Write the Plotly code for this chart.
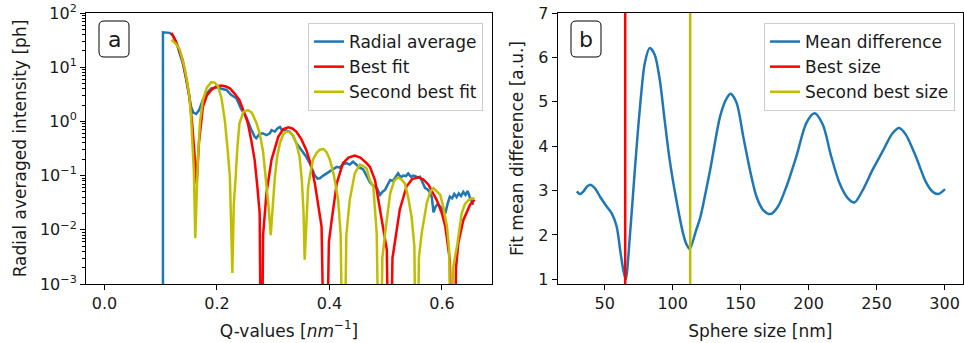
import plotly.graph_objects as go

# ---------------- Panel (a) data ----------------
q_radial = [0.104, 0.104, 0.116, 0.122, 0.128, 0.134, 0.140, 0.146, 0.151, 0.154, 0.158, 0.163, 0.168,
            0.175, 0.182, 0.190, 0.196, 0.202, 0.208, 0.217, 0.225, 0.2345, 0.243, 0.252, 0.260, 0.267,
            0.270, 0.276, 0.282, 0.288, 0.294, 0.297, 0.303, 0.308, 0.312, 0.316, 0.321, 0.325, 0.329,
            0.335, 0.341, 0.347, 0.353, 0.359, 0.365, 0.370, 0.374, 0.379, 0.383, 0.389, 0.395, 0.401,
            0.407, 0.413, 0.418, 0.424, 0.430, 0.436, 0.442, 0.448, 0.454, 0.460, 0.466, 0.472, 0.478,
            0.484, 0.490, 0.494, 0.499, 0.504, 0.508, 0.513, 0.518, 0.522, 0.527, 0.531, 0.536, 0.540,
            0.545, 0.549, 0.553, 0.557, 0.561, 0.566, 0.570, 0.574, 0.578, 0.582, 0.585, 0.589, 0.593,
            0.597, 0.601, 0.606, 0.610, 0.614, 0.618, 0.622, 0.626, 0.630, 0.634, 0.638, 0.642, 0.646,
            0.650, 0.653, 0.656]
i_radial = [1e-6, 44, 43, 38, 28, 18, 11, 5.5, 2.9, 1.87, 1.45, 1.37, 1.6,
            2.5, 3.3, 4.07, 4.2, 4.27, 4.0, 3.8, 3.1, 2.67, 1.7, 1.22, 0.75, 0.52,
            0.49, 0.6, 0.6, 0.56, 0.6, 0.69, 0.65, 0.75, 0.79, 0.68, 0.7, 0.66, 0.65,
            0.55, 0.40, 0.33, 0.26, 0.22, 0.17, 0.12, 0.10, 0.088, 0.089, 0.10, 0.11, 0.12,
            0.13, 0.145, 0.14, 0.16, 0.17, 0.16, 0.18, 0.16, 0.14, 0.13, 0.10, 0.075, 0.065,
            0.060, 0.044, 0.050, 0.055, 0.072, 0.083, 0.080, 0.095, 0.11, 0.092, 0.10, 0.098, 0.11,
            0.095, 0.10, 0.098, 0.092, 0.095, 0.075, 0.059, 0.056, 0.050, 0.040, 0.021, 0.027, 0.030,
            0.027, 0.024, 0.020, 0.030, 0.041, 0.038, 0.046, 0.040, 0.047, 0.042, 0.050, 0.044, 0.052,
            0.038, 0.032, 0.029]

q_best = [0.119, 0.125, 0.132, 0.139, 0.145, 0.151, 0.156, 0.160, 0.164, 0.168, 0.175, 0.182, 0.190,
          0.199, 0.208, 0.216, 0.223, 0.231, 0.240, 0.248, 0.255, 0.261, 0.267, 0.272, 0.276, 0.279,
          0.282, 0.288, 0.297, 0.309, 0.318, 0.327, 0.334, 0.341, 0.350, 0.359, 0.367, 0.374, 0.380,
          0.386, 0.393, 0.399, 0.404, 0.413, 0.424, 0.434, 0.445, 0.455, 0.466, 0.472, 0.481, 0.490,
          0.496, 0.502, 0.507, 0.512, 0.516, 0.525, 0.537, 0.547, 0.558, 0.567, 0.576, 0.591, 0.600,
          0.606, 0.614, 0.621, 0.625, 0.629, 0.638, 0.650, 0.658]
i_best = [43, 33, 22, 13.5, 6.5, 2.86, 0.9, 0.30, 0.072, 0.4, 1.86, 3.0, 3.8,
          4.4, 4.6, 4.4, 4.07, 3.3, 2.48, 1.5, 0.92, 0.45, 0.195, 0.06, 0.02, 1e-6,
          0.008, 0.047, 0.195, 0.52, 0.72, 0.78, 0.74, 0.65, 0.47, 0.295, 0.16, 0.072, 0.03,
          0.0115, 1e-6, 0.006, 0.015, 0.072, 0.17, 0.215, 0.234, 0.215, 0.17, 0.145, 0.083, 0.0235,
          0.011, 0.0043, 1e-6, 0.003, 0.0056, 0.0235, 0.063, 0.086, 0.093, 0.085, 0.068, 0.035, 0.02,
          0.0115, 0.0028, 1e-6, 0.002, 0.0056, 0.015, 0.029, 0.036]

q_second = [0.119, 0.127, 0.134, 0.142, 0.147, 0.151, 0.154, 0.157, 0.159, 0.1615, 0.164, 0.166, 0.170,
            0.175, 0.182, 0.190, 0.196, 0.202, 0.208, 0.214, 0.219, 0.223, 0.2274, 0.230, 0.2333, 0.236,
            0.240, 0.247, 0.255, 0.262, 0.270, 0.276, 0.282, 0.288, 0.292, 0.2956, 0.299, 0.303, 0.307,
            0.312, 0.318, 0.324, 0.330, 0.335, 0.341, 0.347, 0.351, 0.354, 0.356, 0.359, 0.362, 0.365,
            0.371, 0.377, 0.383, 0.389, 0.395, 0.401, 0.408, 0.4156, 0.420, 0.425, 0.430, 0.436, 0.445,
            0.454, 0.460, 0.466, 0.472, 0.478, 0.484, 0.490, 0.494, 0.499, 0.508, 0.515, 0.522, 0.528,
            0.534, 0.540, 0.546, 0.551, 0.555, 0.559, 0.564, 0.573, 0.579, 0.585, 0.591, 0.597, 0.603,
            0.609, 0.613, 0.6165, 0.620, 0.6275, 0.635, 0.641, 0.647, 0.653, 0.658]
i_second = [32, 27, 21, 10.2, 5.5, 2.86, 1.2, 0.40, 0.12, 0.007, 0.05, 0.195, 1.0,
            2.5, 4.2, 5.3, 5.2, 4.4, 2.7, 1.06, 0.3, 0.095, 0.0016, 0.03, 0.095, 0.3,
            0.92, 1.5, 1.62, 1.45, 0.95, 0.6, 0.28, 0.07, 0.025, 0.008, 0.03, 0.095, 0.22,
            0.40, 0.58, 0.65, 0.62, 0.56, 0.40, 0.22, 0.08, 0.02, 0.0028, 0.02, 0.06, 0.095,
            0.2, 0.26, 0.30, 0.31, 0.27, 0.195, 0.10, 0.035, 0.008, 1e-6, 0.008, 0.035, 0.11,
            0.16, 0.15, 0.135, 0.083, 0.063, 0.0087, 1e-6, 0.003, 0.0087, 0.047, 0.08, 0.093, 0.085,
            0.072, 0.04, 0.0174, 0.005, 1e-6, 0.003, 0.0087, 0.031, 0.05, 0.059, 0.052, 0.044, 0.025,
            0.0115, 0.004, 1e-6, 0.002, 0.0056, 0.02, 0.03, 0.035, 0.038, 0.038]

# ---------------- Panel (b) data ----------------
sphere_size = [29.5, 31.9, 34.4, 36.8, 39.2, 42.9, 46.6, 51.5, 55.1, 58.8, 61.7, 63.7, 65.5, 68.5,
               72.2, 75.8, 79.5, 83.1, 86.8, 90.5, 94.1, 97.8, 102.7, 107.6, 110.0, 112.5, 117.3,
               120.2, 127.6, 134.9, 139.8, 142.7, 147.1, 151.9, 156.8, 161.7, 166.6, 172.0, 177.5,
               183.7, 191.0, 198.3, 204.4, 210.5, 216.6, 222.7, 228.8, 233.7, 239.8, 247.1, 254.4,
               261.7, 266.6, 271.5, 278.8, 286.1, 291.0, 295.4, 300.3]
mean_diff = [2.98, 2.92, 2.98, 3.08, 3.13, 3.05, 2.86, 2.64, 2.49, 2.19, 1.59, 1.21, 1.0, 1.96,
             3.47, 4.82, 5.87, 6.21, 6.06, 5.50, 4.59, 3.69, 2.79, 2.04, 1.80, 1.68, 2.11,
             2.38, 3.47, 4.67, 5.08, 5.18, 4.97, 4.22, 3.47, 2.86, 2.56, 2.47, 2.64,
             3.09, 3.77, 4.52, 4.74, 4.48, 3.77, 3.17, 2.83, 2.73, 3.01, 3.47, 3.88,
             4.29, 4.41, 4.26, 3.77, 3.20, 2.98, 2.92, 3.03]
best_size = 65.1
second_best_size = 112.9

# tick labels
y_log_tickvals = [1e-3, 1e-2, 1e-1, 1e0, 1e1, 1e2]
y_log_ticktext = ["10<sup>−3</sup>", "10<sup>−2</sup>", "10<sup>−1</sup>",
                  "10<sup>0</sup>", "10<sup>1</sup>", "10<sup>2</sup>"]
minor_vals = [m * 10 ** e for e in range(-3, 2) for m in range(2, 10)]

BLUE = "#1f77b4"
RED = "#ff0000"
YEL = "#bfbf00"
FONT = "DejaVu Sans"
TXT = "#1a1a1a"
LW = 2.5

fig = go.Figure()
fig.add_trace(go.Scatter(x=q_radial, y=i_radial, mode="lines", name="Radial average",
                         line=dict(color=BLUE, width=LW), xaxis="x", yaxis="y", legend="legend"))
fig.add_trace(go.Scatter(x=q_best, y=i_best, mode="lines", name="Best fit",
                         line=dict(color=RED, width=LW), xaxis="x", yaxis="y", legend="legend"))
fig.add_trace(go.Scatter(x=q_second, y=i_second, mode="lines", name="Second best fit",
                         line=dict(color=YEL, width=LW), xaxis="x", yaxis="y", legend="legend"))

fig.add_trace(go.Scatter(x=sphere_size, y=mean_diff, mode="lines", name="Mean difference",
                         line=dict(color=BLUE, width=LW, shape="spline", smoothing=0.8),
                         xaxis="x2", yaxis="y2", legend="legend2"))
fig.add_trace(go.Scatter(x=[best_size, best_size], y=[0, 8], mode="lines", name="Best size",
                         line=dict(color=RED, width=LW), xaxis="x2", yaxis="y2", legend="legend2"))
fig.add_trace(go.Scatter(x=[second_best_size, second_best_size], y=[0, 8], mode="lines",
                         name="Second best size", line=dict(color=YEL, width=LW),
                         xaxis="x2", yaxis="y2", legend="legend2"))

axis_common = dict(showline=True, mirror=True, linecolor="black", linewidth=1,
                   ticks="outside", ticklen=5, tickwidth=1, tickcolor="black",
                   showgrid=False, zeroline=False,
                   tickfont=dict(family=FONT, size=16, color=TXT),
                   title_font=dict(family=FONT, size=17, color=TXT))

W, H = 964, 343
ml, mr, mt, mb = 86, 1, 13, 59
pw, ph = W - ml - mr, H - mt - mb


def px2paper(x, y):
    return (x - ml) / pw, 1 - (y - mt) / ph


def rounded_box(x0, y0, x1, y1, r=5):
    rx, ry = r / pw, r / ph
    a0, b1 = px2paper(x0, y0)
    a1, b0 = px2paper(x1, y1)
    return (f"M {a0+rx},{b1} L {a1-rx},{b1} Q {a1},{b1} {a1},{b1-ry} "
            f"L {a1},{b0+ry} Q {a1},{b0} {a1-rx},{b0} L {a0+rx},{b0} "
            f"Q {a0},{b0} {a0},{b0+ry} L {a0},{b1-ry} Q {a0},{b1} {a0+rx},{b1} Z")


shapes = [dict(type="path", path=rounded_box(99, 21, 129, 57), xref="paper", yref="paper",
               line=dict(color="black", width=1), fillcolor="white"),
          dict(type="path", path=rounded_box(571, 21, 601, 57), xref="paper", yref="paper",
               line=dict(color="black", width=1), fillcolor="white")]
ax_a = px2paper(114, 39)
ax_b = px2paper(586, 39)
annotations = [dict(text="a", x=ax_a[0], y=ax_a[1], xref="paper", yref="paper", showarrow=False,
                    font=dict(family=FONT, size=22, color=TXT), xanchor="center", yanchor="middle"),
               dict(text="b", x=ax_b[0], y=ax_b[1], xref="paper", yref="paper", showarrow=False,
                    font=dict(family=FONT, size=22, color=TXT), xanchor="center", yanchor="middle")]

legend_common = dict(bgcolor="rgba(255,255,255,0.8)", bordercolor="#cccccc", borderwidth=1,
                     font=dict(family=FONT, size=17, color=TXT), xanchor="right", yanchor="top")
lx1, ly = px2paper(483, 23)
lx2, _ = px2paper(955, 23)

fig.update_layout(
    width=W, height=H, margin=dict(l=ml, r=mr, t=mt, b=mb),
    plot_bgcolor="white", paper_bgcolor="white",
    font=dict(family=FONT, color=TXT),
    xaxis=dict(domain=[0, (492 - ml) / pw], range=[-0.0328, 0.689],
               tickvals=[0.0, 0.2, 0.4, 0.6], tickformat=".1f",
               title=dict(text="Q-values [<i>nm</i><sup>−1</sup>]", standoff=12), **axis_common),
    yaxis=dict(type="log", range=[-3, 2], tickvals=y_log_tickvals, ticktext=y_log_ticktext,
               minor=dict(ticks="outside", ticklen=3, tickcolor="black", tickvals=minor_vals),
               title=dict(text="Radial averaged intensity [ph]", standoff=8), **axis_common),
    xaxis2=dict(domain=[(557.7 - ml) / pw, 1.0], range=[15.45, 313.55],
                tickvals=[50, 100, 150, 200, 250, 300],
                title=dict(text="Sphere size [nm]", standoff=12), anchor="y2", **axis_common),
    yaxis2=dict(range=[0.894, 7.0], tickvals=[1, 2, 3, 4, 5, 6, 7], anchor="x2",
                title=dict(text="Fit mean difference [a.u.]", standoff=10), **axis_common),
    legend=dict(x=lx1, y=ly, **legend_common),
    legend2=dict(x=lx2, y=ly, **legend_common),
    shapes=shapes, annotations=annotations,
)

fig.write_html("out.html", config={"displayModeBar": False},
               post_script="document.body.style.margin='0';document.body.style.padding='0';")
